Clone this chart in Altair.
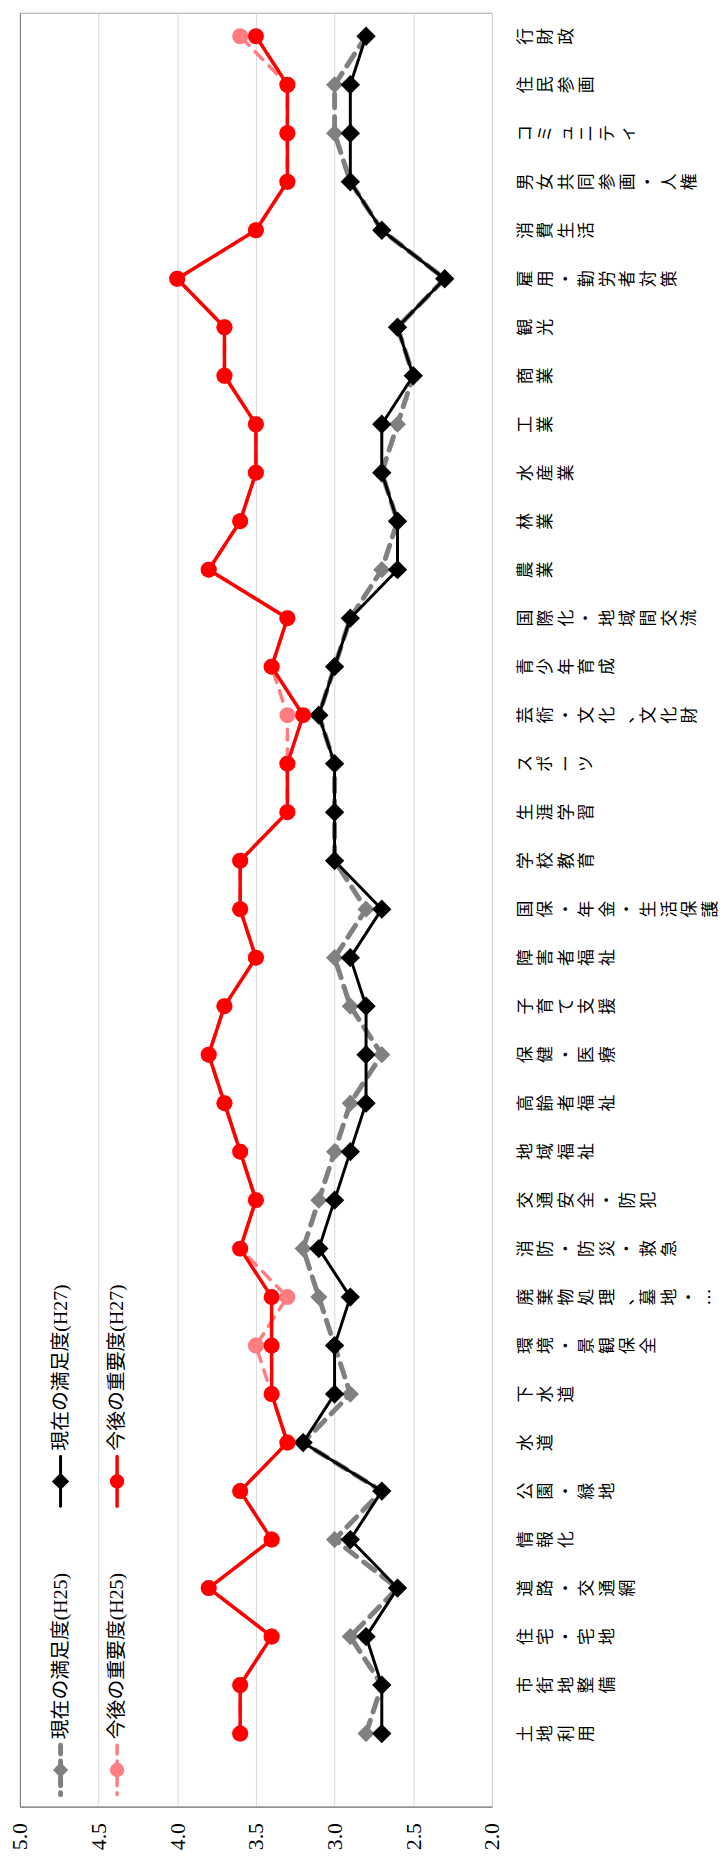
import altair as alt
import pandas as pd

categories = ["土地利用", "市街地整備", "住宅・宅地", "道路・交通網", "情報化", "公園・緑地",
              "水道", "下水道", "環境・景観保全", "廃棄物処理、墓地・…", "消防・防災・救急",
              "交通安全・防犯", "地域福祉", "高齢者福祉", "保健・医療", "子育て支援", "障害者福祉",
              "国保・年金・生活保護", "学校教育", "生涯学習", "スポーツ", "芸術・文化、文化財",
              "青少年育成", "国際化・地域間交流", "農業", "林業", "水産業", "工業", "商業", "観光",
              "雇用・勤労者対策", "消費生活", "男女共同参画・人権", "コミュニティ", "住民参画", "行財政"]

series_names = ["現在の満足度(H25)", "現在の満足度(H27)", "今後の重要度(H25)", "今後の重要度(H27)"]

satisfaction_h25 = [2.8, 2.7, 2.9, 2.6, 3.0, 2.7, 3.2, 2.9, 3.0, 3.1, 3.2, 3.1, 3.0, 2.9, 2.7, 2.9, 3.0, 2.8,
                    3.0, 3.0, 3.0, 3.1, 3.0, 2.9, 2.7, 2.6, 2.7, 2.6, 2.5, 2.6, 2.3, 2.7, 2.9, 3.0, 3.0, 2.8]
satisfaction_h27 = [2.7, 2.7, 2.8, 2.6, 2.9, 2.7, 3.2, 3.0, 3.0, 2.9, 3.1, 3.0, 2.9, 2.8, 2.8, 2.8, 2.9, 2.7,
                    3.0, 3.0, 3.0, 3.1, 3.0, 2.9, 2.6, 2.6, 2.7, 2.7, 2.5, 2.6, 2.3, 2.7, 2.9, 2.9, 2.9, 2.8]
importance_h25 = [3.6, 3.6, 3.4, 3.8, 3.4, 3.6, 3.3, 3.4, 3.5, 3.3, 3.6, 3.5, 3.6, 3.7, 3.8, 3.7, 3.5, 3.6,
                  3.6, 3.3, 3.3, 3.3, 3.4, 3.3, 3.8, 3.6, 3.5, 3.5, 3.7, 3.7, 4.0, 3.5, 3.3, 3.3, 3.3, 3.6]
importance_h27 = [3.6, 3.6, 3.4, 3.8, 3.4, 3.6, 3.3, 3.4, 3.4, 3.4, 3.6, 3.5, 3.6, 3.7, 3.8, 3.7, 3.5, 3.6,
                  3.6, 3.3, 3.3, 3.2, 3.4, 3.3, 3.8, 3.6, 3.5, 3.5, 3.7, 3.7, 4.0, 3.5, 3.3, 3.3, 3.3, 3.5]

tick_values = [2.0, 2.5, 3.0, 3.5, 4.0, 4.5, 5.0]

all_series = [satisfaction_h25, satisfaction_h27, importance_h25, importance_h27]
rows = []
for name, vals in zip(series_names, all_series):
    for i, (c, v) in enumerate(zip(categories, vals)):
        rows.append({"series": name, "idx": i, "category": c, "value": v})
df = pd.DataFrame(rows)

W = 476
H = 1809
SERIF = "Liberation Serif, 'Noto Sans CJK JP'"
CJK = "'Noto Sans CJK JP'"

x_scale = alt.Scale(domain=[2, 5], reverse=True, nice=False, zero=False)
y_scale = alt.Scale(domain=[-1.507, 35.485], nice=False, zero=False)

x_axis = alt.Axis(values=tick_values, format=".1f", labelAngle=270, grid=True,
                  gridColor={"condition": {"test": "datum.value == 5", "value": "#808080"}, "value": "#d9d9d9"},
                  gridWidth=1, ticks=False, domainColor="#808080", domainWidth=1.2,
                  labelFont=SERIF, labelFontSize=22, labelPadding=16, labelColor="#000000", title=None)

base = alt.Chart(df).encode(
    x=alt.X("value:Q", scale=x_scale, axis=x_axis),
    y=alt.Y("idx:Q", scale=y_scale, axis=None),
    order=alt.Order("idx:Q"),
)

styles = {
    series_names[0]: dict(color="#808080", width=5, dash=[14, 9], shape="diamond", size=300),
    series_names[1]: dict(color="#000000", width=3, dash=None, shape="diamond", size=380),
    series_names[2]: dict(color="#FF7C80", width=3.5, dash=[11, 9], shape="circle", size=260),
    series_names[3]: dict(color="#FF0000", width=3.5, dash=None, shape="circle", size=260),
}

layers = []
for name in series_names:
    st = styles[name]
    d = base.transform_filter(alt.datum.series == name)
    line_kw = dict(color=st["color"], strokeWidth=st["width"], strokeCap="round", strokeJoin="round")
    if st["dash"]:
        line_kw["strokeDash"] = st["dash"]
    layers.append(d.mark_line(**line_kw))
    layers.append(d.mark_point(shape=st["shape"], filled=True, size=st["size"], color=st["color"], opacity=1))

# legend (rotated, drawn inside the plot area)
legend_pos = {
    series_names[0]: (41, 1772),
    series_names[1]: (41, 1481),
    series_names[2]: (98, 1772),
    series_names[3]: (98, 1481),
}
for name in series_names:
    st = styles[name]
    lx, ly = legend_pos[name]
    ldf = alt.Chart(pd.DataFrame({"series": [name]}))
    rule_kw = dict(color=st["color"], strokeWidth=st["width"], strokeCap="round")
    if st["dash"]:
        rule_kw["strokeDash"] = [9, 7]
    layers.append(ldf.mark_rule(**rule_kw).encode(
        x=alt.value(lx), y=alt.value(ly - 25), y2=alt.value(ly + 25)))
    layers.append(ldf.mark_point(shape=st["shape"], filled=True, size=st["size"] * 0.8,
                                 color=st["color"], opacity=1).encode(x=alt.value(lx), y=alt.value(ly)))
    layers.append(ldf.mark_text(angle=270, align="left", baseline="middle", font=SERIF, fontSize=20,
                                color="#000000").encode(x=alt.value(lx), y=alt.value(ly - 31), text="series:N"))

main = alt.layer(*layers).properties(width=W, height=H)

# category labels: characters stacked, each rotated
lab_rows = []
for i, c in enumerate(categories):
    for j, ch in enumerate(c):
        lab_rows.append({"idx": i, "pos": j, "char": ch})
LW = 215
labels = alt.Chart(pd.DataFrame(lab_rows)).mark_text(
    angle=270, align="center", baseline="middle", font=CJK, fontSize=17, color="#000000"
).encode(
    x=alt.X("pos:Q", scale=alt.Scale(domain=[-21 / 20.75, (LW - 21) / 20.75], nice=False, zero=False), axis=None),
    y=alt.Y("idx:Q", scale=y_scale, axis=None),
    text="char:N",
).properties(width=LW, height=H, view=alt.ViewBackground(stroke="transparent"))

chart = alt.hconcat(main, labels, spacing=0).properties(
    padding={"left": 0, "top": -4, "right": 0, "bottom": 0},
    background="white",
).configure_view(stroke="#a6a6a6", strokeWidth=1)

chart.save("out.html", embed_options={"renderer": "svg", "actions": False})
